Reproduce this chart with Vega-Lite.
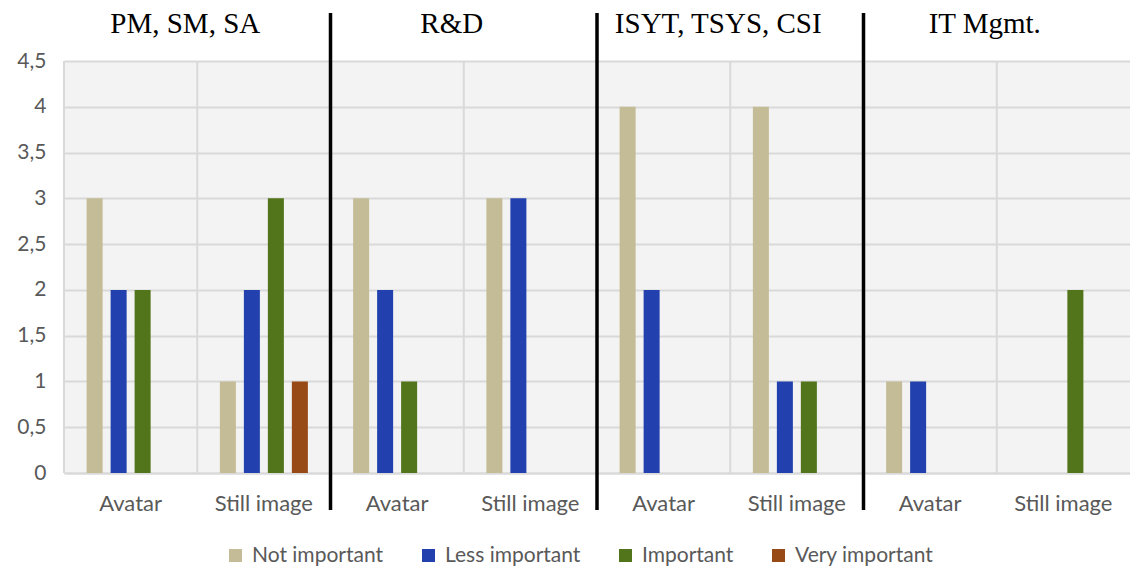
{
  "$schema": "https://vega.github.io/schema/vega-lite/v6.json",
  "width": 1066,
  "height": 412,
  "autosize": "none",
  "padding": {"left": 64, "top": 61, "right": 0, "bottom": 97},
  "config": {
    "font": "Lato",
    "view": {"fill": "#f3f3f3", "stroke": null},
    "axis": {"labelFont": "Lato", "labelFontSize": 21, "labelColor": "#595959", "ticks": false, "titleColor": "#595959"}
  },
  "datasets": {
    "bars": [
      {"key": "PM, SM, SA|Avatar", "series": "Not important", "value": 3},
      {"key": "PM, SM, SA|Avatar", "series": "Less important", "value": 2},
      {"key": "PM, SM, SA|Avatar", "series": "Important", "value": 2},
      {"key": "PM, SM, SA|Still image", "series": "Not important", "value": 1},
      {"key": "PM, SM, SA|Still image", "series": "Less important", "value": 2},
      {"key": "PM, SM, SA|Still image", "series": "Important", "value": 3},
      {"key": "PM, SM, SA|Still image", "series": "Very important", "value": 1},
      {"key": "R&D|Avatar", "series": "Not important", "value": 3},
      {"key": "R&D|Avatar", "series": "Less important", "value": 2},
      {"key": "R&D|Avatar", "series": "Important", "value": 1},
      {"key": "R&D|Still image", "series": "Not important", "value": 3},
      {"key": "R&D|Still image", "series": "Less important", "value": 3},
      {"key": "ISYT, TSYS, CSI|Avatar", "series": "Not important", "value": 4},
      {"key": "ISYT, TSYS, CSI|Avatar", "series": "Less important", "value": 2},
      {"key": "ISYT, TSYS, CSI|Still image", "series": "Not important", "value": 4},
      {"key": "ISYT, TSYS, CSI|Still image", "series": "Less important", "value": 1},
      {"key": "ISYT, TSYS, CSI|Still image", "series": "Important", "value": 1},
      {"key": "IT Mgmt.|Avatar", "series": "Not important", "value": 1},
      {"key": "IT Mgmt.|Avatar", "series": "Less important", "value": 1},
      {"key": "IT Mgmt.|Still image", "series": "Important", "value": 2}
    ],
    "cats": [
      {"key": "PM, SM, SA|Avatar"}, {"key": "PM, SM, SA|Still image"},
      {"key": "R&D|Avatar"}, {"key": "R&D|Still image"},
      {"key": "ISYT, TSYS, CSI|Avatar"}, {"key": "ISYT, TSYS, CSI|Still image"},
      {"key": "IT Mgmt.|Avatar"}, {"key": "IT Mgmt.|Still image"}
    ],
    "seps": [
      {"key": "R&D|Avatar"}, {"key": "ISYT, TSYS, CSI|Avatar"}, {"key": "IT Mgmt.|Avatar"}
    ],
    "titles": [
      {"key": "PM, SM, SA|Still image", "title": "PM, SM, SA"},
      {"key": "R&D|Still image", "title": "R&D"},
      {"key": "ISYT, TSYS, CSI|Still image", "title": "ISYT, TSYS, CSI"},
      {"key": "IT Mgmt.|Still image", "title": "IT Mgmt."}
    ]
  },
  "layer": [
    {
      "data": {"name": "cats"},
      "mark": {"type": "rule", "color": "#d9d9d9", "strokeWidth": 2, "clip": false},
      "encoding": {
        "x": {"field": "key", "type": "nominal", "bandPosition": 0, "title": null,
              "scale": {"domain": ["PM, SM, SA|Avatar", "PM, SM, SA|Still image", "R&D|Avatar", "R&D|Still image", "ISYT, TSYS, CSI|Avatar", "ISYT, TSYS, CSI|Still image", "IT Mgmt.|Avatar", "IT Mgmt.|Still image"], "paddingInner": 0, "paddingOuter": 0},
              "axis": {"labelExpr": "split(datum.label, '|')[1]", "labelAngle": 0, "labelPadding": 20, "labelFontSize": 22, "domain": true, "domainColor": "#d9d9d9", "domainWidth": 2, "grid": false}},
        "y": {"datum": 0, "type": "quantitative"},
        "y2": {"datum": 4.5}
      }
    },
    {
      "data": {"name": "bars"},
      "mark": {"type": "bar", "clip": false},
      "encoding": {
        "x": {"field": "key", "type": "nominal", "title": null,
              "axis": {"labelExpr": "split(datum.label, '|')[1]", "labelAngle": 0, "labelPadding": 20, "labelFontSize": 22, "domain": true, "domainColor": "#d9d9d9", "domainWidth": 2, "grid": false}},
        "xOffset": {"field": "series", "type": "nominal",
                    "scale": {"domain": ["Not important", "Less important", "Important", "Very important"], "paddingInner": 0.333, "paddingOuter": 0.943}},
        "y": {"field": "value", "type": "quantitative", "title": null,
              "scale": {"domain": [0, 4.5], "nice": false},
              "axis": {"values": [0, 0.5, 1, 1.5, 2, 2.5, 3, 3.5, 4, 4.5], "labelExpr": "replace(format(datum.value, '~g'), '.', ',')", "domain": false, "grid": true, "gridColor": "#d9d9d9", "gridWidth": 2, "labelPadding": 18}},
        "color": {"field": "series", "type": "nominal",
                  "scale": {"domain": ["Not important", "Less important", "Important", "Very important"], "range": ["#C4BC96", "#2241AE", "#52741A", "#984A16"]},
                  "legend": {"title": null, "orient": "none", "direction": "horizontal", "legendX": 161, "legendY": 484, "symbolType": "square", "symbolSize": 169, "symbolStrokeWidth": 0, "labelFont": "Lato", "labelFontSize": 21, "labelColor": "#595959", "labelOffset": 6, "columnPadding": 34, "gridAlign": "none"}}
      }
    },
    {
      "data": {"name": "seps"},
      "mark": {"type": "rule", "color": "#000000", "strokeWidth": 3.5, "clip": false},
      "encoding": {
        "x": {"field": "key", "type": "nominal", "bandPosition": 0, "title": null,
              "axis": {"labelExpr": "split(datum.label, '|')[1]", "labelAngle": 0, "labelPadding": 20, "labelFontSize": 22, "domain": true, "domainColor": "#d9d9d9", "domainWidth": 2, "grid": false}},
        "y": {"datum": -0.404, "type": "quantitative"},
        "y2": {"datum": 5.024}
      }
    },
    {
      "data": {"name": "titles"},
      "mark": {"type": "text", "font": "Liberation Serif", "fontSize": 29, "color": "#000000", "baseline": "alphabetic", "align": "center", "dx": -12, "clip": false},
      "encoding": {
        "x": {"field": "key", "type": "nominal", "bandPosition": 0, "title": null,
              "axis": {"labelExpr": "split(datum.label, '|')[1]", "labelAngle": 0, "labelPadding": 20, "labelFontSize": 22, "domain": true, "domainColor": "#d9d9d9", "domainWidth": 2, "grid": false}},
        "y": {"datum": 4.806, "type": "quantitative"},
        "text": {"field": "title"}
      }
    }
  ]
}
